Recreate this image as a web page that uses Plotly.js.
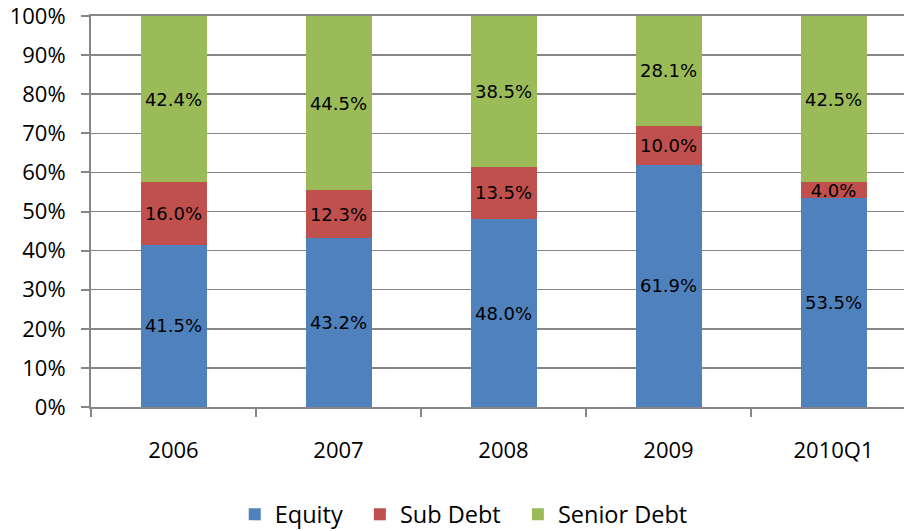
<!DOCTYPE html>
<html>
<head>
<meta charset="utf-8">
<script src="https://cdn.plot.ly/plotly-3.0.1.min.js"></script>
<style>
  html, body { margin: 0; padding: 0; background: #fff; }
  #chart { width: 904px; height: 531px; }
</style>
</head>
<body>
<div id="chart"></div>
<script>
const periods = ['2006', '2007', '2008', '2009', '2010Q1'];
const equity = [41.5, 43.2, 48.0, 61.9, 53.5];
const subDebt = [16.0, 12.3, 13.5, 10.0, 4.0];
const seniorDebt = [42.4, 44.5, 38.5, 28.1, 42.5];
const yTicks = [0, 10, 20, 30, 40, 50, 60, 70, 80, 90, 100];

const axisGray = '#868686';
const pad = '\u00a0\u00a0';

function series(name, values, color) {
    return {
        type: 'bar',
        name: name,
        x: periods,
        y: values,
        marker: {color: color},
        text: values.map(v => v.toFixed(1) + '%'),
        textposition: 'inside',
        insidetextanchor: 'middle',
        constraintext: 'none',
        textfont: {family: 'DejaVu Sans', size: 18, color: '#000'},
        hoverinfo: 'none',
    };
}

const traces = [
    series('Equity' + pad, equity, '#4F81BD'),
    series('Sub Debt' + pad, subDebt, '#C0504D'),
    series('Senior Debt', seniorDebt, '#9BBB59'),
];

const layout = {
    barmode: 'stack',
    bargap: 0.6,
    width: 904,
    height: 531,
    margin: {l: 91, r: 0, t: 16, b: 124},
    paper_bgcolor: '#fff',
    plot_bgcolor: '#fff',
    font: {family: 'Open Sans', size: 22, color: '#000'},
    showlegend: true,
    legend: {
        orientation: 'h',
        xref: 'container',
        x: 0.513,
        xanchor: 'center',
        yref: 'container',
        y: 0.031,
        yanchor: 'middle',
        font: {family: 'Open Sans', size: 23.5},
        traceorder: 'normal',
    },
    xaxis: {
        type: 'category',
        range: [-0.5, 4.427],
        showline: true,
        mirror: true,
        linecolor: axisGray,
        linewidth: 2,
        ticks: 'outside',
        tickson: 'boundaries',
        ticklen: 8,
        tickwidth: 2,
        tickcolor: axisGray,
        ticklabelstandoff: 23,
        showgrid: false,
        zeroline: false,
    },
    yaxis: {
        range: [0, 100],
        tickvals: yTicks,
        ticktext: yTicks.map(v => v + '%'),
        ticklabeloverflow: 'allow',
        showline: true,
        linecolor: axisGray,
        linewidth: 2,
        ticks: 'outside',
        ticklen: 8,
        tickwidth: 2,
        tickcolor: axisGray,
        ticklabelstandoff: 11,
        showgrid: true,
        gridcolor: axisGray,
        gridwidth: 1.5,
        zeroline: false,
    },
};

Plotly.newPlot('chart', traces, layout, {displayModeBar: false, staticPlot: true});
</script>
</body>
</html>
